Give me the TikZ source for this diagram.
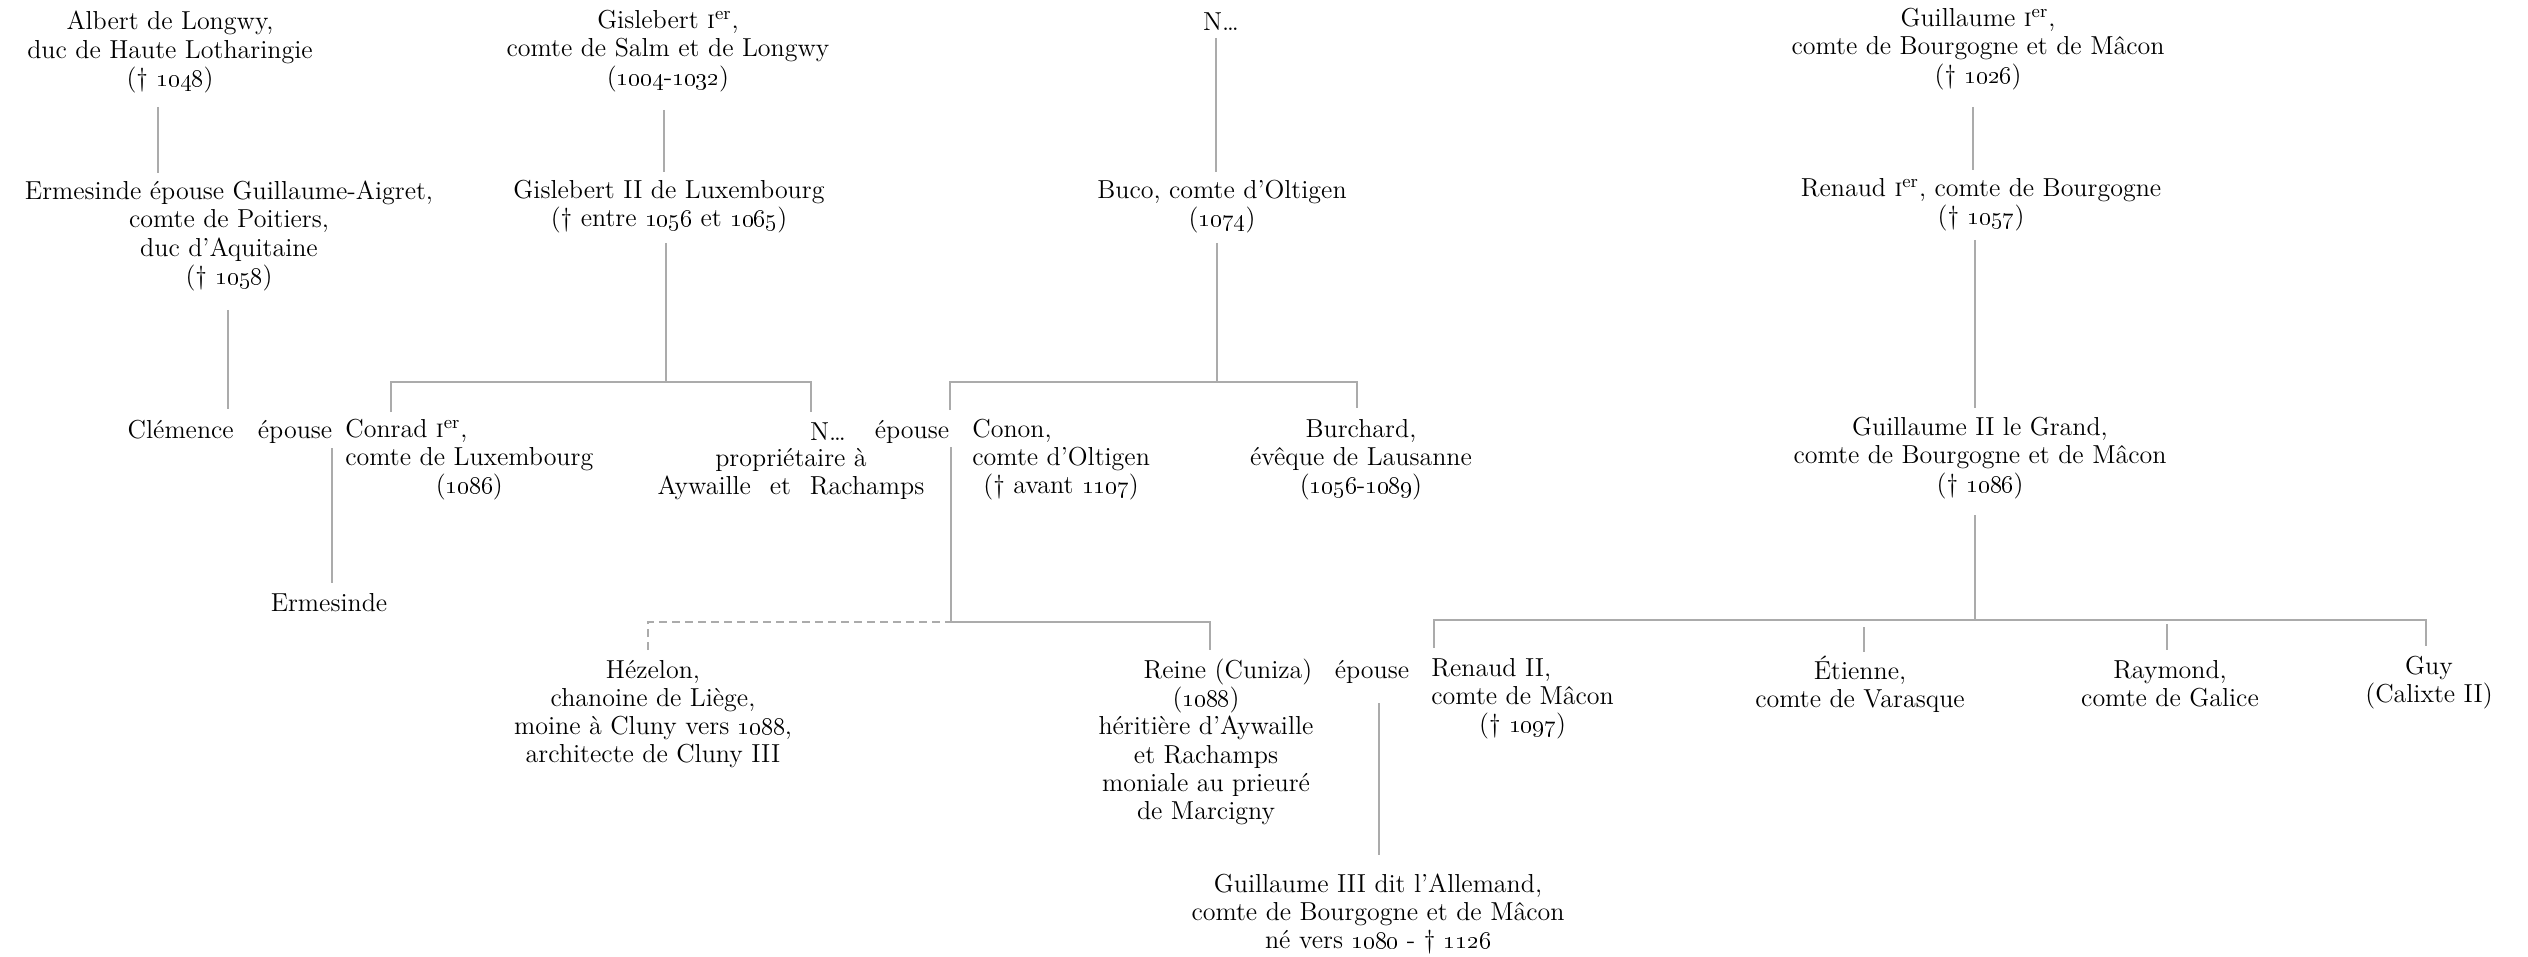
\documentclass[tikz,border=0pt]{standalone}
\usetikzlibrary{calc}
\newcommand{\os}[1]{\oldstylenums{#1}}
\newcommand{\Ier}{\textsc{i}\textsuperscript{er}}
\newcommand{\dg}{\textdagger}
\tikzset{
  person/.style={font=\fontsize{13}{14.1}\selectfont, inner sep=0pt, align=center, text=black},
  edge/.style={draw=black!33, line width=0.55pt},
  uncertain/.style={edge, dash pattern=on 4pt off 2.5pt}
}
\begin{document}
\begin{tikzpicture}[x=0.5pt,y=-0.5pt]
\useasboundingbox (0,0) rectangle (2528,957);
% generation 1
\node[person] (albert) at (170,52) {Albert de Longwy,\\duc de Haute Lotharingie\\(\dg\ \os{1048})};
\node[person] (gisl1) at (668,51) {Gislebert \Ier,\\comte de Salm et de Longwy\\(\os{1004}-\os{1032})};
\node[person] (nbuco) at (1221,22) {N\dots};
\node[person] (guil1) at (1978,49) {Guillaume \Ier,\\comte de Bourgogne et de Mâcon\\(\dg\ \os{1026})};
% generation 2
\node[person] (ermes) at (229,236) {Ermesinde épouse Guillaume-Aigret,\\comte de Poitiers,\\duc d'Aquitaine\\(\dg\ \os{1058})};
\node[person] (gisl2) at (669,207) {Gislebert II de Luxembourg\\(\dg\ entre \os{1056} et \os{1065})};
\node[person] (buco) at (1222,207) {Buco, comte d'Oltigen\\(\os{1074})};
\node[person] (renaud1) at (1981,205) {Renaud \Ier, comte de Bourgogne\\(\dg\ \os{1057})};
% generation 3
\node[person] (clemence) at (230,432) {Clémence\hspace{0.6em} épouse};
\node[person, anchor=west] (conrad) at (345,460) {\begin{tabular}{@{}l@{}}Conrad \Ier,\\comte de Luxembourg\\\multicolumn{1}{@{}c@{}}{(\os{1086})}\end{tabular}};
\node[person] (nn) at (828,432) {N\dots};
\node[person] (ep1) at (912,432) {épouse};
\node[person] (nprop) at (791,474) {propriétaire à\\Aywaille\hspace{0.4em} et\hspace{0.4em} Rachamps};
\node[person, anchor=west] (conon) at (972,460) {\begin{tabular}{@{}l@{}}Conon,\\comte d'Oltigen\\\multicolumn{1}{@{}c@{}}{(\dg\ avant \os{1107})}\end{tabular}};
\node[person] (burchard) at (1361,460) {Burchard,\\évêque de Lausanne\\(\os{1056}-\os{1089})};
\node[person] (guil2) at (1980,458) {Guillaume II le Grand,\\comte de Bourgogne et de Mâcon\\(\dg\ \os{1086})};
% generation 4
\node[person] (ermesinde) at (329,603) {Ermesinde};
\node[person] (hezelon) at (653,714) {Hézelon,\\chanoine de Liège,\\moine à Cluny vers \os{1088},\\architecte de Cluny III};
\node[person] (reine) at (1206,742) {\hspace*{22pt}Reine (Cuniza)\\(\os{1088})\\héritière d'Aywaille\\et Rachamps\\moniale au prieuré\\de Marcigny};
\node[person] (ep2) at (1372,672) {épouse};
\node[person, anchor=west] (renaud2) at (1431,699) {\begin{tabular}{@{}l@{}}Renaud II,\\comte de Mâcon\\\multicolumn{1}{@{}c@{}}{(\dg\ \os{1097})}\end{tabular}};
\node[person] (etienne) at (1860,684) {Étienne,\\comte de Varasque};
\node[person] (raymond) at (2170,684) {Raymond,\\comte de Galice};
\node[person] (guy) at (2429,683) {Guy\\(Calixte II)};
% generation 5
\node[person] (guil3) at (1378,914) {Guillaume III dit l'Allemand,\\comte de Bourgogne et de Mâcon\\né vers \os{1080} - \dg\ \os{1126}};
% junctions
\coordinate (jL) at (666,382);
\coordinate (jM) at (1217,382);
\coordinate (jC) at (951,622);
\coordinate (jR) at (1975,620);
% connectors
\draw[edge] ($(albert.center)+(-12,55)$) -- ($(ermes.center)+(-71,-63)$);
\draw[edge] ($(ermes.center)+(-1,74)$) -- ($(clemence.center)+(-2,-23)$);
\draw[edge] ($(gisl1.center)+(-4,59)$) -- ($(gisl2.center)+(-5,-35)$);
\draw[edge] ($(gisl2.center)+(-3,36)$) -- (jL);
\draw[edge] ($(conrad.west)+(46,-48)$) |- (jL) -| ($(nn.center)+(-17,-20)$);
\draw[edge] ($(conrad.west)+(-13,-12)$) -- ($(ermesinde.center)+(3,-20)$);
\draw[edge] ($(nbuco.center)+(-5,16)$) -- ($(buco.center)+(-6,-35)$);
\draw[edge] ($(buco.center)+(-5,36)$) -- (jM);
\draw[edge] ($(conon.west)+(-22,-50)$) |- (jM) -| ($(burchard.center)+(-4,-52)$);
\draw[edge] ($(conon.west)+(-21,-13)$) -- (jC);
\draw[uncertain] ($(hezelon.center)+(-5,-64)$) |- (jC);
\draw[edge] (jC) -| ($(reine.center)+(4,-92)$);
\draw[edge] ($(guil1.center)+(-5,58)$) -- ($(renaud1.center)+(-8,-35)$);
\draw[edge] ($(renaud1.center)+(-6,35)$) -- ($(guil2.center)+(-5,-50)$);
\draw[edge] ($(guil2.center)+(-5,57)$) -- (jR);
\draw[edge] ($(renaud2.west)+(3,-51)$) |- (jR) -| ($(guy.center)+(-3,-37)$);
\draw[edge] ($(etienne.center)+(4,-57)$) -- ($(etienne.center)+(4,-32)$);
\draw[edge] ($(raymond.center)+(-3,-60)$) -- ($(raymond.center)+(-3,-34)$);
\draw[edge] ($(ep2.center)+(7,31)$) -- ($(guil3.center)+(1,-59)$);
\end{tikzpicture}
\end{document}
